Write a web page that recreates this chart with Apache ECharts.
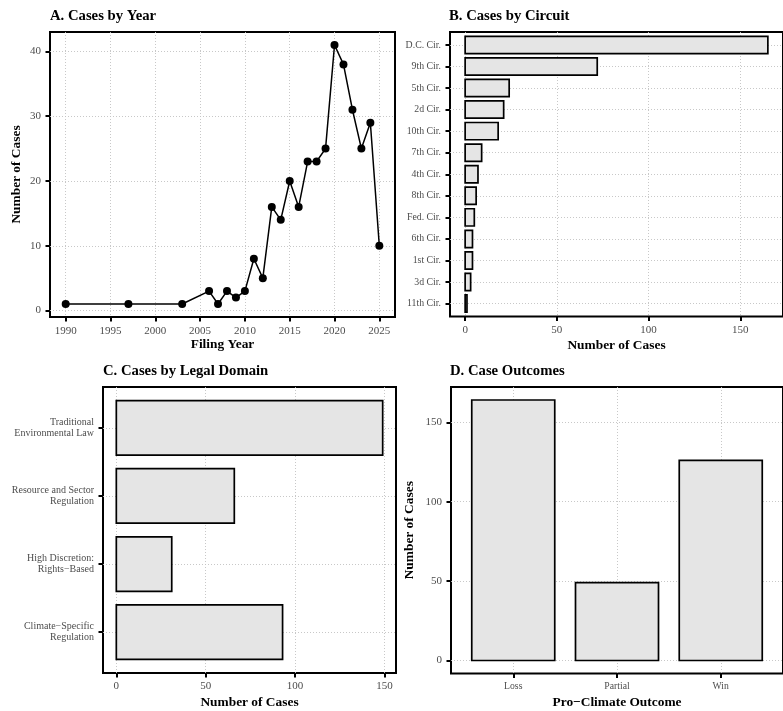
<!DOCTYPE html>
<html>
<head>
<meta charset="utf-8">
<script src="https://cdn.jsdelivr.net/npm/echarts@6/dist/echarts.min.js"></script>
<style>
html,body{margin:0;padding:0;background:#fff;}
#c{width:783px;height:711px;}
</style>
</head>
<body>
<div id="c"></div>
<script>
// ---- Data ----
const years = [1990, 1997, 2003, 2006, 2007, 2008, 2009, 2010, 2011, 2012, 2013, 2014, 2015, 2016, 2017, 2018, 2019, 2020, 2021, 2022, 2023, 2024, 2025];
const yearCounts = [1, 1, 1, 3, 1, 3, 2, 3, 8, 5, 16, 14, 20, 16, 23, 23, 25, 41, 38, 31, 25, 29, 10];
const yearTicks = [1990, 1995, 2000, 2005, 2010, 2015, 2020, 2025];
const yearCountTicks = [0, 10, 20, 30, 40];

const circuits = ['D.C. Cir.', '9th Cir.', '5th Cir.', '2d Cir.', '10th Cir.', '7th Cir.', '4th Cir.', '8th Cir.', 'Fed. Cir.', '6th Cir.', '1st Cir.', '3d Cir.', '11th Cir.'];
const circuitCounts = [165, 72, 24, 21, 18, 9, 7, 6, 5, 4, 4, 3, 1];
const circuitTicks = [0, 50, 100, 150];

const domains = ['Traditional\nEnvironmental Law', 'Resource and Sector\nRegulation', 'High Discretion:\nRights\u2212Based', 'Climate\u2212Specific\nRegulation'];
const domainCounts = [149, 66, 31, 93];
const domainTicks = [0, 50, 100, 150];

const outcomes = ['Loss', 'Partial', 'Win'];
const outcomeCounts = [164, 49, 126];
const outcomeTicks = [0, 50, 100, 150];

// ---- Styles ----
const FONT = '"Liberation Serif", "DejaVu Serif", serif';
const LABEL_COLOR = '#4d4d4d';
const GRID_LINE = {show: true, lineStyle: {color: '#c2c2c2', type: [1, 2], width: 0.9}};
const AXIS_LINE = {show: false, onZero: false};
const TICK = (vals) => ({show: true, inside: false, length: 4.5, customValues: vals, lineStyle: {color: '#000', width: 2}});
const LBL = (vals, size, margin, fmt) => ({
  show: true, customValues: vals, color: LABEL_COLOR, fontFamily: FONT, fontSize: size, margin: margin,
  lineHeight: size * 1.1, formatter: fmt || (v => String(v))
});
const NAME_STYLE = {fontFamily: FONT, fontWeight: 'bold', fontSize: 13.4, color: '#000'};
const TITLE_STYLE = {fontFamily: FONT, fontWeight: 'bold', fontSize: 14.7, color: '#000'};
const idx = (v) => Math.round(v);
const expand = (lo, hi) => [lo - (hi - lo) * 0.05, hi + (hi - lo) * 0.05];

const yrX = expand(Math.min(...years), Math.max(...years));
const yrY = expand(Math.min(...yearCounts), Math.max(...yearCounts));
const cirX = expand(0, Math.max(...circuitCounts));
const domX = expand(0, Math.max(...domainCounts));
const outY = expand(0, Math.max(...outcomeCounts));

function hbar(params, api) {
  const v = api.value(0), i = api.value(1);
  const p0 = api.coord([0, i]);
  const p1 = api.coord([v, i]);
  const h = api.size([0, 0.8])[1];
  return {type: 'rect', shape: {x: p0[0], y: p0[1] - h / 2, width: p1[0] - p0[0], height: h},
    style: {fill: '#e5e5e5', stroke: '#000', lineWidth: 1.7}};
}
function vbar(params, api) {
  const i = api.value(0), v = api.value(1);
  const p0 = api.coord([i, 0]);
  const p1 = api.coord([i, v]);
  const w = api.size([0.8, 0])[0];
  return {type: 'rect', shape: {x: p0[0] - w / 2, y: p1[1], width: w, height: p0[1] - p1[1]},
    style: {fill: '#e5e5e5', stroke: '#000', lineWidth: 1.7}};
}

const gridBase = {show: true, borderColor: '#000', borderWidth: 2, backgroundColor: 'transparent', containLabel: false};

const option = {
  animation: false,
  backgroundColor: '#fff',
  textStyle: {fontFamily: FONT},
  title: [
    {text: 'A. Cases by Year', left: 50, top: 9, padding: 0, textStyle: TITLE_STYLE},
    {text: 'B. Cases by Circuit', left: 449, top: 9, padding: 0, textStyle: TITLE_STYLE},
    {text: 'C. Cases by Legal Domain', left: 103, top: 364, padding: 0, textStyle: TITLE_STYLE},
    {text: 'D. Case Outcomes', left: 450, top: 364, padding: 0, textStyle: TITLE_STYLE}
  ],
  grid: [
    Object.assign({left: 50, top: 32, right: 388, bottom: 394}, gridBase),
    Object.assign({left: 450, top: 32, right: -8, bottom: 394.5}, gridBase),
    Object.assign({left: 103, top: 387, right: 387, bottom: 38}, gridBase),
    Object.assign({left: 451, top: 387, right: -8, bottom: 37.5}, gridBase)
  ],
  xAxis: [
    {gridIndex: 0, type: 'value', min: yrX[0], max: yrX[1], axisLine: AXIS_LINE,
      axisTick: TICK(yearTicks), axisLabel: LBL(yearTicks, 11, 8), splitLine: GRID_LINE,
      name: 'Filing Year', nameLocation: 'middle', nameGap: 21, nameTextStyle: NAME_STYLE},
    {gridIndex: 1, type: 'value', min: cirX[0], max: cirX[1], axisLine: AXIS_LINE,
      axisTick: TICK(circuitTicks), axisLabel: LBL(circuitTicks, 11, 8), splitLine: GRID_LINE,
      name: 'Number of Cases', nameLocation: 'middle', nameGap: 23, nameTextStyle: NAME_STYLE},
    {gridIndex: 2, type: 'value', min: domX[0], max: domX[1], axisLine: AXIS_LINE,
      axisTick: TICK(domainTicks), axisLabel: LBL(domainTicks, 11, 7), splitLine: GRID_LINE,
      name: 'Number of Cases', nameLocation: 'middle', nameGap: 23, nameTextStyle: NAME_STYLE},
    {gridIndex: 3, type: 'value', min: -0.6, max: outcomes.length - 0.4, axisLine: AXIS_LINE,
      axisTick: TICK(outcomes.map((d, i) => i)), axisLabel: LBL(outcomes.map((d, i) => i), 9.7, 7.5, v => outcomes[idx(v)]),
      splitLine: GRID_LINE,
      name: 'Pro\u2212Climate Outcome', nameLocation: 'middle', nameGap: 23, nameTextStyle: NAME_STYLE}
  ],
  yAxis: [
    {gridIndex: 0, type: 'value', min: yrY[0], max: yrY[1], axisLine: AXIS_LINE,
      axisTick: TICK(yearCountTicks), axisLabel: LBL(yearCountTicks, 11, 9), splitLine: GRID_LINE,
      name: 'Number of Cases', nameLocation: 'middle', nameGap: 27, nameTextStyle: NAME_STYLE},
    {gridIndex: 1, type: 'value', min: -0.6, max: circuits.length - 0.4, inverse: true, axisLine: AXIS_LINE,
      axisTick: TICK(circuits.map((d, i) => i)), axisLabel: LBL(circuits.map((d, i) => i), 9.8, 9, v => circuits[idx(v)]),
      splitLine: GRID_LINE},
    {gridIndex: 2, type: 'value', min: -0.6, max: domains.length - 0.4, inverse: true, axisLine: AXIS_LINE,
      axisTick: TICK(domains.map((d, i) => i)), axisLabel: LBL(domains.map((d, i) => i), 10, 9, v => domains[idx(v)]),
      splitLine: GRID_LINE},
    {gridIndex: 3, type: 'value', min: outY[0], max: outY[1], axisLine: AXIS_LINE,
      axisTick: TICK(outcomeTicks), axisLabel: LBL(outcomeTicks, 11, 9), splitLine: GRID_LINE,
      name: 'Number of Cases', nameLocation: 'middle', nameGap: 35, nameTextStyle: NAME_STYLE}
  ],
  series: [
    {type: 'line', xAxisIndex: 0, yAxisIndex: 0, data: years.map((y, i) => [y, yearCounts[i]]),
      symbol: 'circle', symbolSize: 8, itemStyle: {color: '#000'}, lineStyle: {color: '#000', width: 1.5}, clip: false},
    {type: 'custom', xAxisIndex: 1, yAxisIndex: 1, renderItem: hbar, data: circuits.map((c, i) => [circuitCounts[i], i]), encode: {x: 0, y: 1}},
    {type: 'custom', xAxisIndex: 2, yAxisIndex: 2, renderItem: hbar, data: domains.map((c, i) => [domainCounts[i], i]), encode: {x: 0, y: 1}},
    {type: 'custom', xAxisIndex: 3, yAxisIndex: 3, renderItem: vbar, data: outcomes.map((c, i) => [i, outcomeCounts[i]]), encode: {x: 0, y: 1}}
  ]
};

const chart = echarts.init(document.getElementById('c'), null, {renderer: 'canvas'});
chart.setOption(option);
</script>
</body>
</html>
